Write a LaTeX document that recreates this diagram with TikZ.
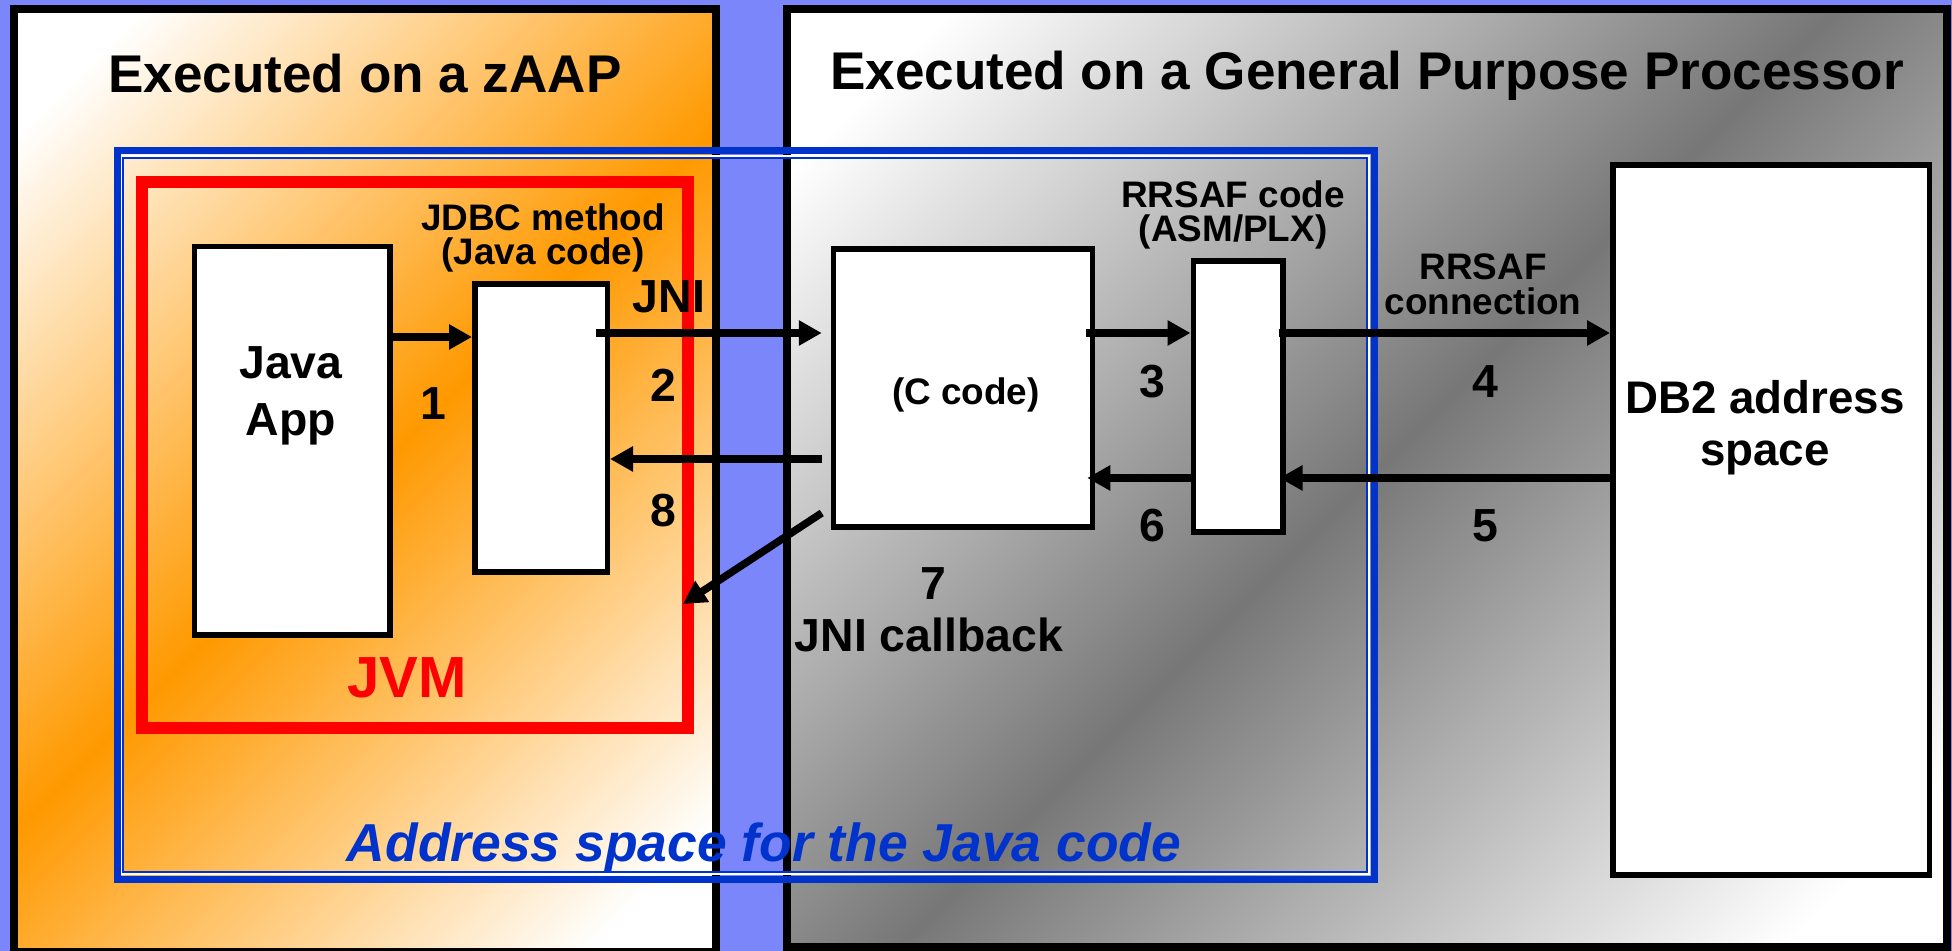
\documentclass[tikz,border=0pt]{standalone}
\usepackage{fontspec}
\setmainfont{Liberation Sans}
\usetikzlibrary{arrows.meta,calc}

\definecolor{zbg}{RGB}{122,134,250}
\definecolor{zorange}{RGB}{255,153,0}
\definecolor{gpgray}{RGB}{119,119,119}
\definecolor{asblue}{RGB}{0,51,204}
\definecolor{jvmred}{RGB}{255,0,0}

% white in the corners, full colour along the other diagonal
\pgfdeclarehorizontalshading{zaapshade}{100bp}{color(0bp)=(white); color(20bp)=(white); color(50bp)=(zorange); color(80bp)=(white); color(100bp)=(white)}
\pgfdeclarehorizontalshading{gpshade}{100bp}{color(0bp)=(white); color(20bp)=(white); color(50bp)=(gpgray); color(80bp)=(white); color(100bp)=(white)}

\tikzset{
	panel/.style={draw=black, line width=0.08cm, shading angle=-45},
	codebox/.style={draw=black, fill=white, line width=0.055cm, inner sep=0pt},
	flow/.style={draw=black, line width=0.075cm, -{Triangle[length=0.23cm, width=0.24cm]}},
	paneltitle/.style={black, anchor=base, inner sep=0pt, font=\bfseries\fontsize{15.1}{18}\selectfont},
	numlabel/.style={black, anchor=base, inner sep=0pt, font=\bfseries\fontsize{13.2}{16}\selectfont},
	codelabel/.style={black, inner sep=0pt, align=center, font=\bfseries\fontsize{10.5}{9.9}\selectfont},
}

\begin{document}
\begin{tikzpicture}
	\useasboundingbox (0,0) rectangle (19.52,-9.51);
	\fill[zbg] (0,0) rectangle (19.52,-9.51);
	% the two processors
	\shadedraw[panel, shading=zaapshade] (0.14,-0.09) rectangle (7.16,-9.52);
	\shadedraw[panel, shading=gpshade] (7.87,-0.09) rectangle (19.47,-9.47);
	\node[paneltitle] (zaap) at (3.65,-0.93) {Executed on a zAAP};
	\node[paneltitle] (gpp) at (13.67,-0.90) {Executed on a General Purpose Processor};
	% address space of the Java code
	\draw[white, line width=0.02cm] (1.21,-1.56) rectangle (13.69,-8.74);
	\draw[asblue, line width=0.07cm] (1.17,-1.51) rectangle (13.74,-8.80);
	\draw[asblue, line width=0.02cm] (1.23,-1.58) rectangle (13.67,-8.72);
	\node[text=asblue, anchor=base, inner sep=0pt, font=\bfseries\itshape\fontsize{15.2}{18}\selectfont] (asplabel) at (7.64,-8.62) {Address space for the Java code};
	% JVM
	\node[draw=jvmred, line width=0.12cm, minimum width=5.46cm, minimum height=5.46cm, inner sep=0pt] (jvm) at (4.15,-4.55) {};
	\node[text=jvmred, anchor=base, inner sep=0pt, font=\bfseries\fontsize{16.5}{20}\selectfont] (jvmlabel) at (4.07,-6.98) {JVM};
	% code boxes
	\node[codebox, minimum width=1.955cm, minimum height=3.885cm] (app) at (2.92,-4.41) {};
	\node[codebox, minimum width=1.325cm, minimum height=2.88cm] (jdbc) at (5.41,-4.28) {};
	\node[codebox, minimum width=2.59cm, minimum height=2.78cm] (ccode) at (9.63,-3.88) {};
	\node[codebox, minimum width=0.895cm, minimum height=2.71cm] (rrsaf) at (12.38,-3.965) {};
	\node[codebox, minimum width=3.165cm, minimum height=7.10cm] (db2) at (17.71,-5.20) {};
	\node[black, inner sep=0pt, align=center, font=\bfseries\fontsize{13.2}{16.2}\selectfont] (applabel) at (2.91,-3.96) {Java\\App};
	\node[codelabel] (jdbclabel) at (5.43,-2.38) {JDBC method\\(Java code)};
	\node[codelabel, anchor=base] (ccodelabel) at (9.66,-4.05) {(C code)};
	\node[codelabel] (rrsaflabel) at (12.33,-2.15) {RRSAF code\\(ASM/PLX)};
	\node[codelabel, font=\bfseries\fontsize{10.5}{10}\selectfont] (connlabel) at (14.83,-2.84) {RRSAF\\connection};
	\node[black, inner sep=0pt, align=center, font=\bfseries\fontsize{13}{14.8}\selectfont] (db2label) at (17.65,-4.28) {DB2 address\\space};
	% steps
	\node[numlabel] (jni) at (6.69,-3.13) {JNI};
	\node[numlabel] (n1) at (4.33,-4.20) {1};
	\node[numlabel] (n2) at (6.63,-4.02) {2};
	\node[numlabel] (n3) at (11.52,-3.98) {3};
	\node[numlabel] (n4) at (14.85,-3.98) {4};
	\node[numlabel] (n5) at (14.85,-5.42) {5};
	\node[numlabel] (n6) at (11.52,-5.42) {6};
	\node[numlabel] (n7) at (9.33,-6.00) {7};
	\node[numlabel] (n8) at (6.63,-5.27) {8};
	\node[numlabel] (jnicb) at (9.29,-6.52) {JNI callback};
	% calls and returns
	\draw[flow] (app.east |- 0,-3.37) -- (jdbc.west |- 0,-3.37);
	\draw[flow, shorten <=-0.14cm, shorten >=0.09cm] (jdbc.east |- 0,-3.33) -- (ccode.west |- 0,-3.33);
	\draw[flow, shorten <=-0.09cm] (ccode.east |- 0,-3.33) -- (rrsaf.west |- 0,-3.33);
	\draw[flow, shorten <=-0.07cm] (rrsaf.east |- 0,-3.33) -- (db2.west |- 0,-3.33);
	\draw[flow, shorten >=-0.06cm] (db2.west |- 0,-4.78) -- (rrsaf.east |- 0,-4.78);
	\draw[flow, shorten >=-0.08cm] (rrsaf.west |- 0,-4.78) -- (ccode.east |- 0,-4.78);
	\draw[flow, shorten <=0.09cm] (ccode.west |- 0,-4.59) -- (jdbc.east |- 0,-4.59);
	\draw[flow] ($(ccode.west |- 0,-5.13)+(-0.09,0)$) -- ($(jvm.east |- 0,-6.04)+(-0.11,0)$);
\end{tikzpicture}
\end{document}
